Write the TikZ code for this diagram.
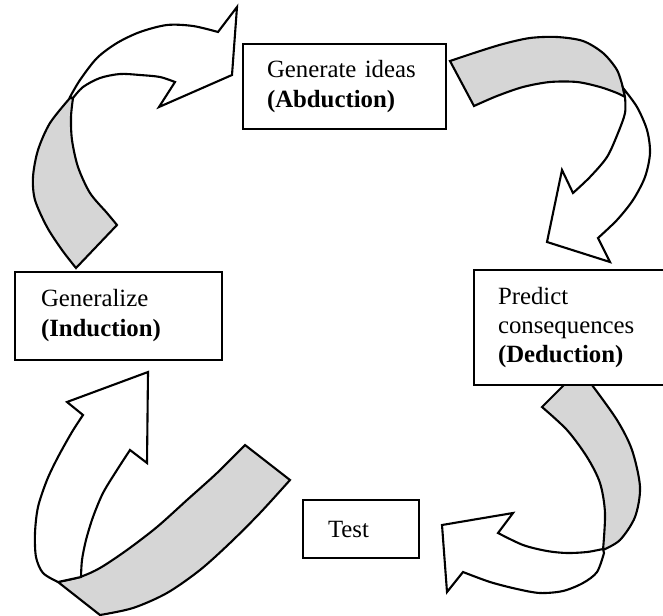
\documentclass[tikz,border=0pt]{standalone}
\usepackage{fontspec}
\setmainfont{Liberation Serif}
\begin{document}
\begin{tikzpicture}[x=1pt,y=-1pt,
  outl/.style={draw=black, line width=2.1pt, line join=miter},
  ribbon/.style={outl, fill=gray!32},
  face/.style={outl, fill=white},
  box/.style={draw=black, line width=2pt, fill=white, anchor=north west, align=left,
    inner xsep=24pt, inner ysep=0pt, font=\fontsize{24.8}{30}\selectfont}]
\useasboundingbox (0,0) rectangle (663,615);
\clip (0,0) rectangle (663,615);

% Arrow A: Induction -> Abduction
\path[ribbon] plot[smooth] coordinates {(70,98) (50,123) (38,150) (33,177) (35,200) (47,227) (62,250) (76,268)}
  -- (117,225)
  -- plot[smooth] coordinates {(117,225) (107,213) (90,193) (78,167) (72,140) (71,117) (73,98)} -- cycle;
\path[face] plot[smooth] coordinates {(70,97) (80,80) (97,58) (117,43) (140,32) (167,25) (193,26) (218,32)}
  -- (237,7) -- (232,75) -- (159,107) -- (175,82)
  -- plot[smooth] coordinates {(175,82) (160,77) (140,75) (120,74) (100,78) (83,87) (73,98)} -- cycle;

% Arrow B: Abduction -> Deduction
\path[ribbon] plot[smooth] coordinates {(450,61) (477,52) (503,44) (530,38) (557,37) (583,41) (603,53) (617,70) (623,88)}
  -- (625,97)
  -- plot[smooth] coordinates {(625,97) (617,93) (600,87) (577,82) (550,82) (523,87) (497,96) (474,106)} -- cycle;
\path[face] plot[smooth] coordinates {(623,88) (637,107) (647,130) (650,153) (645,177) (633,200) (617,220) (598,238)}
  -- (610,262) -- (547,242) -- (562,170) -- (573,193)
  -- plot[smooth] coordinates {(573,193) (590,177) (607,157) (618,133) (625,113) (625,97)} -- cycle;

% Arrow C: Deduction -> Test
\path[ribbon] (542,407) -- (575,374) -- (590,374)
  -- plot[smooth] coordinates {(592,385) (617,420) (632,450) (640,487) (635,517) (620,540) (603,550)}
  -- plot[smooth] coordinates {(603,550) (605,513) (600,483) (587,457) (567,430) (542,407)} -- cycle;
\path[face] plot[smooth] coordinates {(603,549) (587,552) (567,553) (547,551) (523,545) (498,533)}
  -- (513,513) -- (442,525) -- (447,592) -- (463,572)
  -- plot[smooth] coordinates {(463,572) (490,582) (517,589) (540,593) (563,591) (583,583) (597,572) (604,553)} -- cycle;

% Arrow D: Test -> Induction
\path[ribbon] plot[smooth] coordinates {(245,445) (217,473) (187,500) (157,527) (127,550) (100,568) (80,577) (58,582)}
  -- (100,615)
  -- plot[smooth] coordinates {(100,615) (133,608) (167,593) (200,570) (230,543) (260,513) (290,480)} -- cycle;
\path[face] plot[smooth] coordinates {(58,582) (43,573) (36,557) (35,533) (38,507) (47,480) (58,457) (72,432) (83,415)}
  -- (67,402) -- (148,372) -- (147,463) -- (130,450)
  -- plot[smooth] coordinates {(130,450) (117,470) (103,493) (93,517) (86,540) (82,560) (81,577)}
  -- (58,582) -- cycle;

% Boxes
\node[box, minimum width=203pt, minimum height=85pt, text width=155pt] (abd) at (242,43)
  {Generate ideas\\\textbf{(Abduction)}};
\node[box, minimum width=203pt, minimum height=88pt, text width=155pt, inner xsep=26pt] (ind) at (14,271)
  {Generalize\\\textbf{(Induction)}};
\node[box, minimum width=215pt, minimum height=115pt, text width=167pt, font=\fontsize{24.8}{29}\selectfont] (ded) at (473,269)
  {Predict\\consequences\\\textbf{(Deduction)}};
\node[box, minimum width=116pt, minimum height=58pt, text width=66pt] (tst) at (302,499)
  {Test};
\end{tikzpicture}
\end{document}
